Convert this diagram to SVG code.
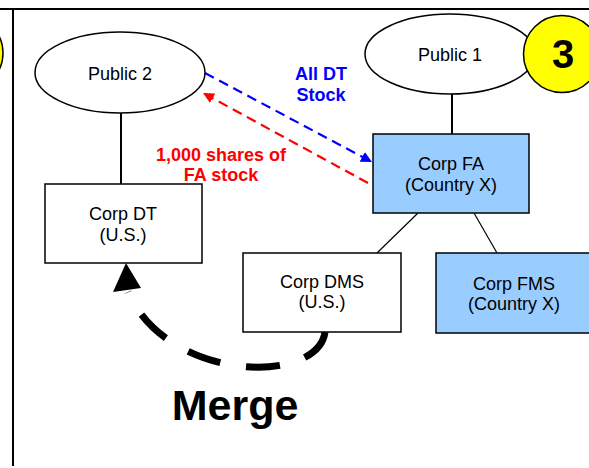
<svg xmlns="http://www.w3.org/2000/svg" width="589" height="468" viewBox="0 0 589 468">
<style>
.n{font-family:"Liberation Sans",Arial,sans-serif;font-size:18px;fill:#000;text-anchor:middle}
.b{font-family:"Liberation Sans",Arial,sans-serif;font-weight:bold;text-anchor:middle}
.shape{stroke:#000;stroke-width:1.5}
</style>
<defs>
<marker id="ab" viewBox="0 0 10 10" refX="9" refY="5" markerWidth="5" markerHeight="5" orient="auto" markerUnits="strokeWidth"><path d="M0,0 L10,5 L0,10 Z" fill="#0000FF"/></marker>
<marker id="ar" viewBox="0 0 10 10" refX="9" refY="5" markerWidth="5" markerHeight="5" orient="auto" markerUnits="strokeWidth"><path d="M0,0 L10,5 L0,10 Z" fill="#FF0000"/></marker>
</defs>
<rect width="589" height="468" fill="#fff"/>
<g id="frame">
<line x1="0" y1="9" x2="589" y2="9" stroke="#000" stroke-width="2"/>
<line x1="13" y1="9" x2="13" y2="466" stroke="#000" stroke-width="2"/>
<circle cx="-34" cy="53" r="37" fill="#FFFF00" stroke="#000" stroke-width="1.5"/>
</g>
<g id="connectors">
<line x1="121" y1="113" x2="121" y2="184" stroke="#000" stroke-width="2"/>
<line x1="452" y1="94" x2="452" y2="134" stroke="#000" stroke-width="2"/>
<line x1="418" y1="213" x2="377" y2="253" stroke="#000" stroke-width="1.2"/>
<line x1="474" y1="213" x2="497" y2="253" stroke="#000" stroke-width="1.2"/>
<line x1="205" y1="73" x2="371" y2="161.5" stroke="#0000FF" stroke-width="2.2" stroke-dasharray="10 6" marker-end="url(#ab)"/>
<line x1="368" y1="183" x2="204" y2="93.5" stroke="#FF0000" stroke-width="2.2" stroke-dasharray="10 6" marker-end="url(#ar)"/>
<path d="M325,332 C318,385 168,383 128,292" fill="none" stroke="#000" stroke-width="7" stroke-dasharray="34 26"/>
<path d="M126,263 L113,292 L141,288 Z" fill="#000"/>
</g>
<g id="public2">
<ellipse cx="120" cy="72.5" rx="85" ry="40.5" fill="#fff" class="shape"/>
<text class="n" x="120" y="80">Public 2</text>
</g>
<g id="public1">
<ellipse cx="450" cy="54" rx="85" ry="40" fill="#fff" class="shape"/>
<text class="n" x="450" y="61">Public 1</text>
</g>
<g id="badge3">
<circle cx="562" cy="54" r="38.5" fill="#FFFF00" class="shape"/>
<text class="b" x="563" y="67.5" font-size="40">3</text>
</g>
<g id="corpDT">
<rect x="45" y="184" width="157" height="79" fill="#fff" class="shape"/>
<text class="n" x="123" y="220">Corp DT</text>
<text class="n" x="123" y="241">(U.S.)</text>
</g>
<g id="corpFA">
<rect x="373" y="134" width="156" height="79" fill="#99CCFF" class="shape"/>
<text class="n" x="451" y="170">Corp FA</text>
<text class="n" x="451" y="191">(Country X)</text>
</g>
<g id="corpDMS">
<rect x="243" y="253" width="158" height="79" fill="#fff" class="shape"/>
<text class="n" x="322" y="288">Corp DMS</text>
<text class="n" x="322" y="308">(U.S.)</text>
</g>
<g id="corpFMS">
<rect x="436" y="253" width="157" height="80" fill="#99CCFF" class="shape"/>
<text class="n" x="514" y="290">Corp FMS</text>
<text class="n" x="514" y="310">(Country X)</text>
</g>
<g id="labels">
<text class="b" x="321" y="80" font-size="18" fill="#0000FF">All DT</text>
<text class="b" x="321" y="101" font-size="18" fill="#0000FF">Stock</text>
<text class="b" x="221" y="161" font-size="18" fill="#FF0000">1,000 shares of</text>
<text class="b" x="221" y="181" font-size="18" fill="#FF0000">FA stock</text>
<text class="b" x="235" y="420" font-size="43" fill="#000">Merge</text>
</g>
</svg>
